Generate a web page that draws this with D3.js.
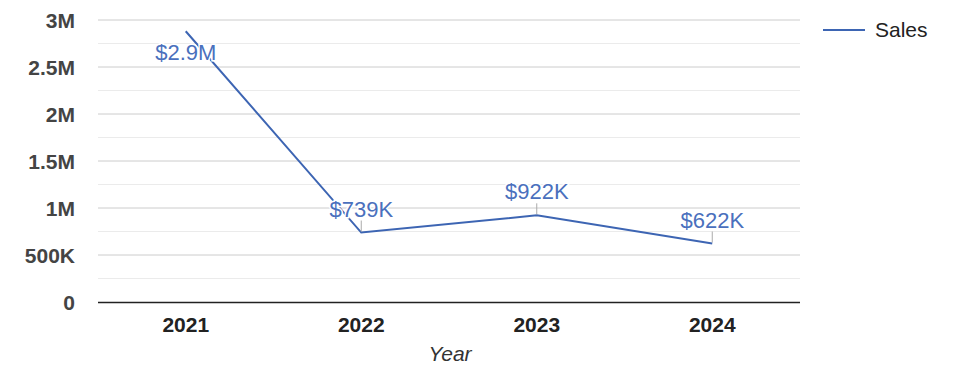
<!DOCTYPE html>
<html>
<head>
<meta charset="utf-8">
<script src="https://cdn.jsdelivr.net/npm/d3@7"></script>
<style>
  body { margin: 0; background: white; }
  text { font-family: "Liberation Sans", Arial, sans-serif; }
</style>
</head>
<body>
<div id="chart"></div>
<script>
// data
const years = ["2021", "2022", "2023", "2024"]
const sales = [2880000, 739000, 922000, 622000]
const salesLabels = ["$2.9M", "$739K", "$922K", "$622K"]
const yTicks = [0, 500000, 1000000, 1500000, 2000000, 2500000, 3000000]
const yTickLabels = ["0", "500K", "1M", "1.5M", "2M", "2.5M", "3M"]
const minorTicks = [250000, 750000, 1250000, 1750000, 2250000, 2750000]

const width = 975, height = 378
const plotLeft = 98, plotRight = 800, plotTop = 20, plotBottom = 302
const lineColor = "#3d65b3"

const svg = d3.select("#chart").append("svg")
    .attr("width", width)
    .attr("height", height)

const x = d3.scaleBand().domain(years).range([plotLeft, plotRight])
const y = d3.scaleLinear().domain([0, 3000000]).range([plotBottom, plotTop])

// gridlines
svg.selectAll(".minor")
    .data(minorTicks)
    .join("line")
    .attr("x1", plotLeft).attr("x2", plotRight)
    .attr("y1", d => y(d)).attr("y2", d => y(d))
    .attr("stroke", "#ebebeb")

svg.selectAll(".major")
    .data(yTicks.filter(d => d > 0))
    .join("line")
    .attr("x1", plotLeft).attr("x2", plotRight)
    .attr("y1", d => y(d)).attr("y2", d => y(d))
    .attr("stroke", "#cccccc")

svg.append("line")
    .attr("x1", plotLeft).attr("x2", plotRight)
    .attr("y1", y(0) + 0.5).attr("y2", y(0) + 0.5)
    .attr("stroke", "#222")
    .attr("stroke-width", 1.3)

// y labels
svg.selectAll(".ylab")
    .data(yTicks)
    .join("text")
    .attr("x", 75)
    .attr("y", d => y(d))
    .attr("dy", "0.36em")
    .attr("text-anchor", "end")
    .attr("font-size", 21)
    .attr("font-weight", "bold")
    .attr("fill", "#444")
    .text((d, i) => yTickLabels[i])

// x labels
svg.selectAll(".xlab")
    .data(years)
    .join("text")
    .attr("x", d => x(d) + x.bandwidth() / 2)
    .attr("y", 332)
    .attr("text-anchor", "middle")
    .attr("font-size", 21)
    .attr("font-weight", "bold")
    .attr("fill", "#222")
    .text(d => d)

svg.append("text")
    .attr("x", 450)
    .attr("y", 361)
    .attr("text-anchor", "middle")
    .attr("font-size", 21)
    .attr("font-style", "italic")
    .attr("fill", "#333")
    .text("Year")

// line
const cx = d => x(d) + x.bandwidth() / 2
const line = d3.line()
    .x((d, i) => cx(years[i]))
    .y(d => y(d))

svg.append("path")
    .datum(sales)
    .attr("d", line)
    .attr("fill", "none")
    .attr("stroke", lineColor)
    .attr("stroke-width", 2)

// leader ticks (not for first point, its label sits below)
svg.selectAll(".leader")
    .data(sales.slice(1))
    .join("line")
    .attr("x1", (d, i) => cx(years[i + 1]))
    .attr("x2", (d, i) => cx(years[i + 1]))
    .attr("y1", d => y(d) - 1)
    .attr("y2", d => y(d) - 12)
    .attr("stroke", "#aaa")

// labels
svg.selectAll(".vlab")
    .data(sales)
    .join("text")
    .attr("x", (d, i) => cx(years[i]))
    .attr("y", (d, i) => i == 0 ? y(d) + 29 : y(d) - 16)
    .attr("text-anchor", "middle")
    .attr("font-size", 22)
    .attr("fill", "#4a70bd")
    .attr("stroke", "white")
    .attr("stroke-width", 3)
    .attr("paint-order", "stroke")
    .text((d, i) => salesLabels[i])

// legend
svg.append("line")
    .attr("x1", 823).attr("x2", 865)
    .attr("y1", 30).attr("y2", 30)
    .attr("stroke", lineColor)
    .attr("stroke-width", 2)

svg.append("text")
    .attr("x", 875)
    .attr("y", 36.5)
    .attr("font-size", 21)
    .attr("fill", "#222")
    .text("Sales")
</script>
</body>
</html>
